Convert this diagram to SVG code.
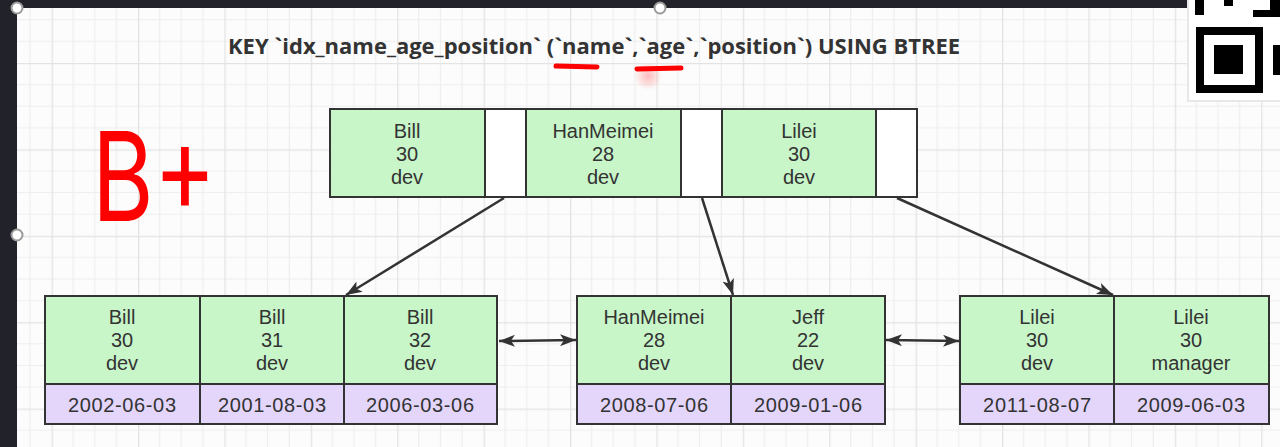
<svg xmlns="http://www.w3.org/2000/svg" width="1280" height="447" viewBox="0 0 1280 447">
<defs>
<pattern id="grid" patternUnits="userSpaceOnUse" x="138" y="63" width="86.4" height="86.4">
<path d="M21.6,0V86.4M43.2,0V86.4M64.8,0V86.4M0,21.6H86.4M0,43.2H86.4M0,64.8H86.4" stroke="#eeeeee" stroke-width="1.2" fill="none"/>
<path d="M0.6,0V86.4M0,0.6H86.4" stroke="#e3e3e3" stroke-width="1.4" fill="none"/>
</pattern>
<marker id="ah" viewBox="0 0 16 12" refX="16" refY="6" markerWidth="16" markerHeight="12" markerUnits="userSpaceOnUse" orient="auto-start-reverse">
<path d="M0,0L16,6L0,12L4,6z" fill="#333"/>
</marker>
<radialGradient id="blur">
<stop offset="0" stop-color="#ff6b6b" stop-opacity="0.45"/>
<stop offset="1" stop-color="#ff6b6b" stop-opacity="0"/>
</radialGradient>
</defs>
<style>
.g{fill:#c8f6c9;stroke:#333;stroke-width:2}
.p{fill:#e4d6fb;stroke:#333;stroke-width:2}
.w{fill:#ffffff;stroke:#333;stroke-width:2}
.t{font-family:"Liberation Sans",Arial,sans-serif;font-size:20px;fill:#333;text-anchor:middle}
.c{stroke:#333;stroke-width:2.5;fill:none}
</style>
<rect x="0" y="0" width="1280" height="447" fill="#fcfcfc"/>
<rect x="0" y="0" width="1280" height="447" fill="url(#grid)"/>
<rect x="0" y="0" width="17" height="447" fill="#22232a"/>
<rect x="0" y="0" width="1280" height="8" fill="#22232a"/>
<g id="qr">
<rect x="1187" y="0" width="93" height="102" fill="#e8e8e8"/>
<rect x="1189" y="0" width="91" height="100" fill="#ffffff"/>
<rect x="1195" y="0" width="9" height="15" fill="#000"/>
<rect x="1224" y="0" width="9" height="6" fill="#000"/>
<rect x="1253" y="10" width="27" height="7" fill="#000"/>
<rect x="1270" y="0" width="10" height="17" fill="#000"/>
<rect x="1200" y="31" width="59" height="58" fill="none" stroke="#000" stroke-width="8"/>
<rect x="1214" y="45" width="29" height="29" fill="#000"/>
<rect x="1273" y="45" width="7" height="30" fill="#000"/>
</g>
<g id="handles" fill="#ffffff" stroke="#9a9a9a" stroke-width="2">
<circle cx="17" cy="8" r="5.5"/>
<circle cx="17" cy="235" r="5.5"/>
<circle cx="660" cy="8" r="5.5"/>
</g>
<g id="title">
<text x="228" y="54" font-family="'Open Sans','Noto Sans','Liberation Sans',sans-serif" font-size="22" font-weight="700" fill="#333" textLength="732" lengthAdjust="spacingAndGlyphs">KEY `idx_name_age_position` (`name`,`age`,`position`) USING BTREE</text>
</g>
<g id="annotations">
<circle cx="648" cy="76" r="14" fill="url(#blur)"/>
<path d="M556,66L597,67" stroke="#ff0000" stroke-width="5" stroke-linecap="round"/>
<path d="M637,69L681,68" stroke="#ff0000" stroke-width="5" stroke-linecap="round"/>
<text x="92" y="221" font-family="Inter,'Liberation Sans',sans-serif" font-size="124" font-weight="400" fill="#ff0000" textLength="124" lengthAdjust="spacingAndGlyphs">B+</text>
</g>
<g id="root">
<rect class="g" x="330" y="109" width="155" height="88"/>
<rect class="w" x="485" y="109" width="41" height="88"/>
<rect class="g" x="526" y="109" width="155" height="88"/>
<rect class="w" x="681" y="109" width="41" height="88"/>
<rect class="g" x="722" y="109" width="154" height="88"/>
<rect class="w" x="876" y="109" width="41" height="88"/>
<text class="t" x="407" y="138">Bill</text><text class="t" x="407" y="161">30</text><text class="t" x="407" y="184">dev</text>
<text class="t" x="603" y="138">HanMeimei</text><text class="t" x="603" y="161">28</text><text class="t" x="603" y="184">dev</text>
<text class="t" x="799" y="138">Lilei</text><text class="t" x="799" y="161">30</text><text class="t" x="799" y="184">dev</text>
</g>
<g id="leaf1">
<rect class="g" x="45" y="296" width="155" height="88"/>
<rect class="g" x="200" y="296" width="144" height="88"/>
<rect class="g" x="344" y="296" width="153" height="88"/>
<rect class="p" x="45" y="384" width="155" height="40"/>
<rect class="p" x="200" y="384" width="144" height="40"/>
<rect class="p" x="344" y="384" width="153" height="40"/>
<text class="t" x="122" y="324">Bill</text><text class="t" x="122" y="347">30</text><text class="t" x="122" y="370">dev</text>
<text class="t" x="272" y="324">Bill</text><text class="t" x="272" y="347">31</text><text class="t" x="272" y="370">dev</text>
<text class="t" x="420" y="324">Bill</text><text class="t" x="420" y="347">32</text><text class="t" x="420" y="370">dev</text>
<text class="t" x="122" y="412" textLength="108">2002-06-03</text>
<text class="t" x="272" y="412" textLength="108">2001-08-03</text>
<text class="t" x="420" y="412" textLength="108">2006-03-06</text>
</g>
<g id="leaf2">
<rect class="g" x="577" y="296" width="154" height="88"/>
<rect class="g" x="731" y="296" width="154" height="88"/>
<rect class="p" x="577" y="384" width="154" height="40"/>
<rect class="p" x="731" y="384" width="154" height="40"/>
<text class="t" x="654" y="324">HanMeimei</text><text class="t" x="654" y="347">28</text><text class="t" x="654" y="370">dev</text>
<text class="t" x="808" y="324">Jeff</text><text class="t" x="808" y="347">22</text><text class="t" x="808" y="370">dev</text>
<text class="t" x="654" y="412" textLength="108">2008-07-06</text>
<text class="t" x="808" y="412" textLength="108">2009-01-06</text>
</g>
<g id="leaf3">
<rect class="g" x="960" y="296" width="154" height="88"/>
<rect class="g" x="1114" y="296" width="155" height="88"/>
<rect class="p" x="960" y="384" width="154" height="40"/>
<rect class="p" x="1114" y="384" width="155" height="40"/>
<text class="t" x="1037" y="324">Lilei</text><text class="t" x="1037" y="347">30</text><text class="t" x="1037" y="370">dev</text>
<text class="t" x="1191" y="324">Lilei</text><text class="t" x="1191" y="347">30</text><text class="t" x="1191" y="370">manager</text>
<text class="t" x="1037" y="412" textLength="108">2011-08-07</text>
<text class="t" x="1191" y="412" textLength="108">2009-06-03</text>
</g>
<g id="connectors">
<path class="c" d="M504,198L346,295" marker-end="url(#ah)"/>
<path class="c" d="M702,198L733,295" marker-end="url(#ah)"/>
<path class="c" d="M897,198L1113,295" marker-end="url(#ah)"/>
<path class="c" d="M499,341L576,340" marker-start="url(#ah)" marker-end="url(#ah)"/>
<path class="c" d="M886,340L959,341" marker-start="url(#ah)" marker-end="url(#ah)"/>
</g>
</svg>
